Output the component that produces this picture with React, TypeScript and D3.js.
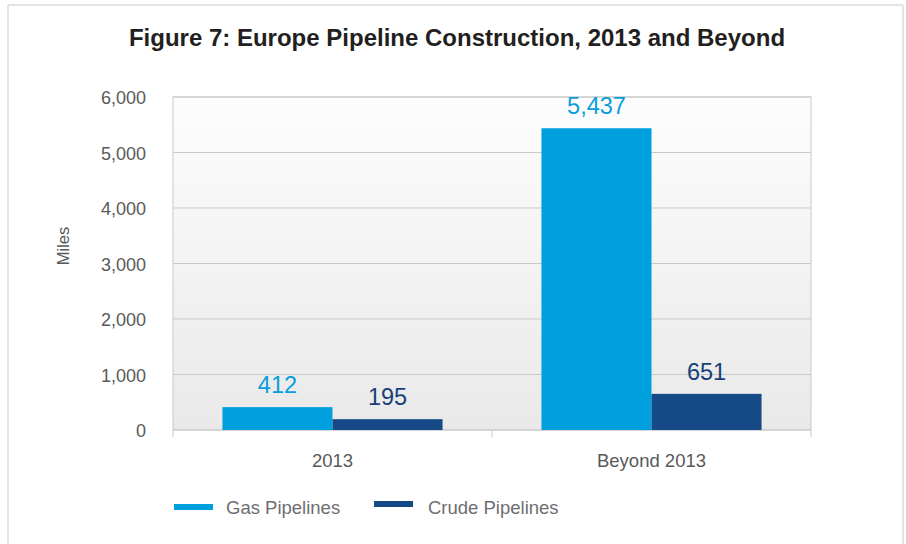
import React from "react";
import * as d3 from "d3";

const categories = ["2013", "Beyond 2013"];
const seriesNames = ["Gas Pipelines", "Crude Pipelines"];
const gasValues = [412, 5437];
const crudeValues = [195, 651];
const yTicks = [0, 1000, 2000, 3000, 4000, 5000, 6000];

const W = 906;
const H = 544;
const FONT = "'Liberation Sans', Arial, Helvetica, sans-serif";
const COLORS = ["#00a0df", "#164a86"];
const LABEL_COLORS = ["#0a9ddb", "#183f78"];

export default function App() {
  const left = 173;
  const right = 811;
  const top = 97;
  const bottom = 430;

  const x0 = d3
    .scaleBand<string>()
    .domain(categories)
    .range([left, right])
    .paddingInner(0.31)
    .paddingOuter(0.155);
  const x1 = d3
    .scaleBand<string>()
    .domain(seriesNames)
    .range([0, x0.bandwidth()])
    .padding(0);
  const y = d3.scaleLinear().domain([0, 6000]).range([bottom, top]);
  const fmt = d3.format(",");

  const series = [gasValues, crudeValues];

  return (
    <svg
      width={W}
      height={H}
      style={{ position: "absolute", left: 0, top: 0, background: "#fff" }}
      fontFamily={FONT}
    >
      <defs>
        <linearGradient id="plotbg" x1="0" y1="0" x2="0" y2="1">
          <stop offset="0" stopColor="#fdfdfd" />
          <stop offset="1" stopColor="#e9e9ea" />
        </linearGradient>
      </defs>
      {/* outer frame */}
      <line x1={8} y1={5} x2={903} y2={5} stroke="#e4e4e4" strokeWidth={2} />
      <line x1={8} y1={5} x2={8} y2={H} stroke="#e4e4e4" strokeWidth={2} />
      <line x1={903} y1={5} x2={903} y2={H} stroke="#e4e4e4" strokeWidth={2} />

      <text
        x={457}
        y={46}
        textAnchor="middle"
        fontSize={24}
        fontWeight="bold"
        fill="#231f20"
      >
        Figure 7: Europe Pipeline Construction, 2013 and Beyond
      </text>

      {/* plot background */}
      <rect
        x={left}
        y={top}
        width={right - left}
        height={bottom - top}
        fill="url(#plotbg)"
        stroke="#c9c9c9"
        strokeWidth={1}
      />
      {yTicks.map((t) => (
        <line
          key={"g" + t}
          x1={left}
          x2={right}
          y1={y(t)}
          y2={y(t)}
          stroke="#c9c9c9"
          strokeWidth={1}
        />
      ))}
      {yTicks.map((t) => (
        <text
          key={"yt" + t}
          x={146}
          y={y(t) + 7}
          textAnchor="end"
          fontSize={18}
          fill="#595959"
        >
          {fmt(t)}
        </text>
      ))}
      <text
        transform={`translate(69,246) rotate(-90)`}
        textAnchor="middle"
        fontSize={16.5}
        fill="#595959"
      >
        Miles
      </text>

      {/* x axis ticks */}
      {[left, ...categories.map((c) => (x0(c) as number) + x0.bandwidth() + (x0.step() - x0.bandwidth()) / 2)].map(
        (xx, i) => (
          <line
            key={"xt" + i}
            x1={xx}
            x2={xx}
            y1={bottom}
            y2={bottom + 7}
            stroke="#c9c9c9"
          />
        )
      )}
      {categories.map((c) => (
        <text
          key={"xl" + c}
          x={(x0(c) as number) + x0.bandwidth() / 2}
          y={467}
          textAnchor="middle"
          fontSize={18.5}
          fill="#595959"
        >
          {c}
        </text>
      ))}

      {/* bars */}
      {categories.map((c, ci) =>
        seriesNames.map((s, si) => {
          const v = series[si][ci];
          const bx = (x0(c) as number) + (x1(s) as number);
          return (
            <g key={c + s}>
              <rect
                x={bx}
                y={y(v)}
                width={x1.bandwidth()}
                height={bottom - y(v)}
                fill={COLORS[si]}
              />
              <text
                x={bx + x1.bandwidth() / 2}
                y={y(v) - 14}
                textAnchor="middle"
                fontSize={23.5}
                fill={LABEL_COLORS[si]}
              >
                {fmt(v)}
              </text>
            </g>
          );
        })
      )}

      {/* legend */}
      {seriesNames.map((s, i) => {
        const lx = i === 0 ? 174 : 374;
        const ly = i === 0 ? 507 : 504;
        return (
          <g key={"lg" + s}>
            <rect x={lx} y={ly - 3} width={39} height={6} fill={COLORS[i]} />
            <text x={lx + (i === 0 ? 52 : 54)} y={514} fontSize={18.5} fill="#6d6e71">
              {s}
            </text>
          </g>
        );
      })}
    </svg>
  );
}
